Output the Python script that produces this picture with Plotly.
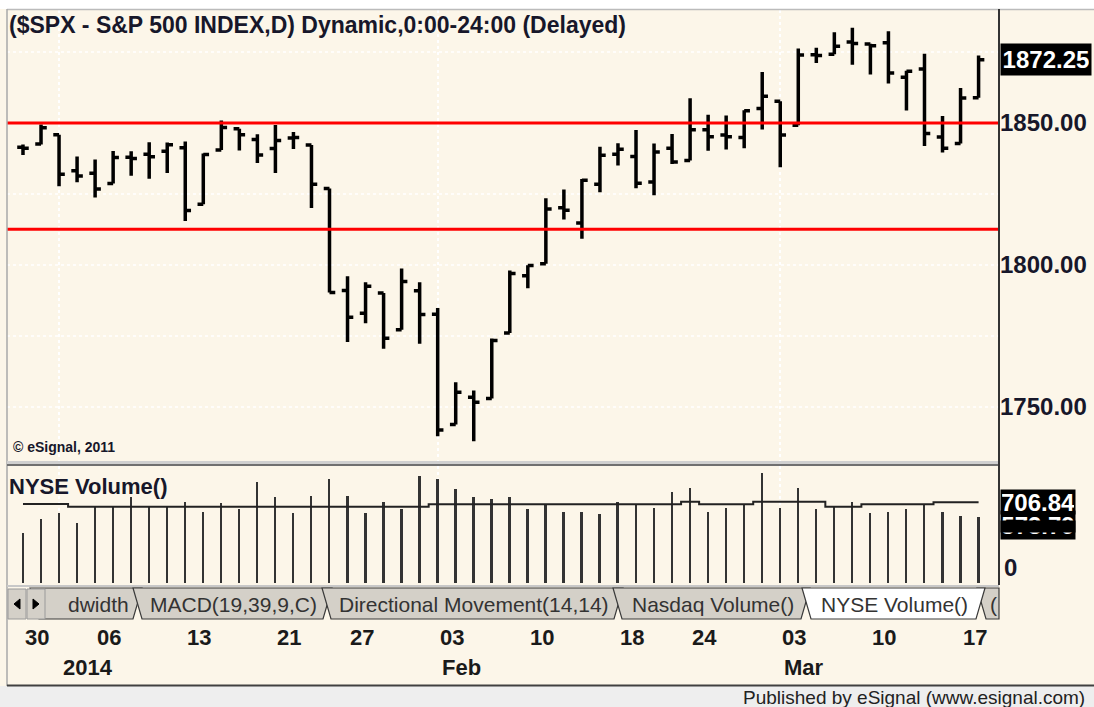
import plotly.graph_objects as go
import pandas as pd

# ---------------- data ----------------
dates = ["2013-12-30", "2013-12-31", "2014-01-02", "2014-01-03", "2014-01-06", "2014-01-07",
         "2014-01-08", "2014-01-09", "2014-01-10", "2014-01-13", "2014-01-14", "2014-01-15",
         "2014-01-16", "2014-01-17", "2014-01-21", "2014-01-22", "2014-01-23", "2014-01-24",
         "2014-01-27", "2014-01-28", "2014-01-29", "2014-01-30", "2014-01-31", "2014-02-03",
         "2014-02-04", "2014-02-05", "2014-02-06", "2014-02-07", "2014-02-10", "2014-02-11",
         "2014-02-12", "2014-02-13", "2014-02-14", "2014-02-18", "2014-02-19", "2014-02-20",
         "2014-02-21", "2014-02-24", "2014-02-25", "2014-02-26", "2014-02-27", "2014-02-28",
         "2014-03-03", "2014-03-04", "2014-03-05", "2014-03-06", "2014-03-07", "2014-03-10",
         "2014-03-11", "2014-03-12", "2014-03-13", "2014-03-14", "2014-03-17", "2014-03-18"]

opens = [1841.47, 1842.61, 1845.86, 1833.21, 1832.31, 1828.71, 1837.90, 1839.00, 1840.06,
         1841.26, 1821.36, 1840.52, 1847.99, 1844.23, 1841.05, 1844.71, 1842.29, 1826.96,
         1791.03, 1783.00, 1790.15, 1777.17, 1790.88, 1782.68, 1743.82, 1753.38, 1752.99,
         1776.01, 1796.20, 1800.45, 1820.12, 1814.82, 1828.46, 1839.03, 1838.22, 1829.24,
         1841.07, 1836.78, 1847.66, 1845.79, 1844.90, 1855.12, 1857.68, 1849.23, 1874.05,
         1874.18, 1878.52, 1877.86, 1878.26, 1866.15, 1869.06, 1845.07, 1842.81, 1858.92]
highs = [1842.47, 1849.44, 1845.86, 1838.24, 1837.16, 1840.10, 1840.02, 1843.23, 1843.15,
         1843.45, 1839.26, 1850.84, 1847.99, 1846.04, 1849.31, 1846.87, 1842.29, 1826.96,
         1795.98, 1793.87, 1790.15, 1798.77, 1793.88, 1784.83, 1758.73, 1755.79, 1774.06,
         1798.03, 1799.94, 1823.54, 1826.55, 1830.25, 1841.65, 1842.87, 1847.50, 1842.79,
         1846.13, 1858.71, 1852.91, 1852.65, 1854.53, 1867.92, 1857.68, 1876.23, 1876.53,
         1881.94, 1883.57, 1877.87, 1882.35, 1868.38, 1874.40, 1852.44, 1862.30, 1873.76]
lows = [1838.77, 1842.41, 1827.74, 1829.13, 1823.73, 1828.71, 1831.40, 1830.38, 1832.43,
        1815.52, 1821.36, 1840.52, 1840.30, 1835.87, 1832.38, 1840.88, 1820.06, 1790.29,
        1772.88, 1779.49, 1770.45, 1777.17, 1772.26, 1739.66, 1743.82, 1737.92, 1752.99,
        1776.01, 1791.83, 1800.41, 1815.97, 1809.22, 1825.59, 1835.01, 1826.99, 1824.58,
        1835.60, 1836.78, 1840.19, 1840.66, 1841.13, 1847.67, 1834.44, 1849.23, 1871.11,
        1874.18, 1870.56, 1867.04, 1863.88, 1854.38, 1841.86, 1839.57, 1842.81, 1858.92]
closes = [1841.07, 1848.36, 1831.98, 1831.37, 1826.77, 1837.88, 1837.49, 1838.13, 1842.37,
          1819.20, 1838.88, 1848.38, 1845.89, 1838.70, 1843.80, 1844.86, 1828.46, 1790.29,
          1781.56, 1792.50, 1774.20, 1794.19, 1782.59, 1741.89, 1755.20, 1751.64, 1773.43,
          1797.02, 1799.84, 1819.75, 1819.26, 1829.83, 1838.63, 1840.76, 1828.75, 1839.78,
          1836.25, 1847.61, 1845.12, 1845.16, 1854.29, 1859.45, 1845.73, 1873.91, 1873.81,
          1877.03, 1878.04, 1877.17, 1867.63, 1868.20, 1846.34, 1841.13, 1858.83, 1872.25]

volume = [433, 556, 609, 521, 667, 667, 750, 667, 667, 711, 623, 697, 644, 887, 750, 609,
          764, 908, 764, 609, 711, 644, 940, 908, 820, 750, 732, 750, 644, 688, 623, 623,
          605, 711, 688, 658, 799, 834, 623, 658, 688, 961, 658, 834, 644, 667, 711, 609,
          623, 644, 688, 623, 588, 573.79]
volume_avg = [691, 691, 691, 667, 667, 667, 667, 667, 667, 667, 667, 667, 667, 667, 667, 667,
              667, 667, 667, 667, 667, 667, 667, 688, 688, 688, 688, 688, 688, 688, 688, 688,
              688, 688, 688, 688, 688, 711, 688, 688, 688, 711, 711, 711, 711, 667, 667, 688,
              688, 688, 688, 706.84, 706.84, 706.84]

red_levels = [1850.0, 1812.6]
price_ticks = [1750, 1800, 1850]
grid_levels = [1750, 1775, 1800, 1825, 1850, 1875]
price_range = [1730.6, 1889.8]
volume_range = [-4.4, 1025]

title_text = "($SPX - S&P 500 INDEX,D) Dynamic,0:00-24:00 (Delayed)"
tabs = [("dwidth", 30, 142, False), ("MACD(19,39,9,C)", 133, 332, False),
        ("Directional Movement(14,14)", 322, 623, False), ("Nasdaq Volume()", 613, 810, False),
        ("(", 977, 1012, False), ("NYSE Volume()", 802, 985, True)]

# ---------------- helpers ----------------
W, H = 1094, 707
def px(x):
    return x / W
def py(y):
    return 1 - y / H

BG = "#FCF6E9"
TXT = "#17172a"
FONT = "Liberation Sans"

idx = list(range(len(dates)))
d = pd.to_datetime(pd.Series(dates))

fig = go.Figure()
fig.add_trace(go.Ohlc(x=idx, open=opens, high=highs, low=lows, close=closes,
                      increasing_line_color="black", decreasing_line_color="black",
                      line_width=3.5, tickwidth=0.32, xaxis="x", yaxis="y",
                      hoverinfo="skip", showlegend=False))
fig.add_trace(go.Bar(x=idx, y=volume, width=0.11, marker_color="#333333",
                     marker_line_width=0, xaxis="x", yaxis="y2", showlegend=False))
fig.add_trace(go.Scatter(x=idx, y=volume_avg, mode="lines",
                         line=dict(color="#222222", width=2, shape="hvh"),
                         xaxis="x", yaxis="y2", showlegend=False))

month_starts = [i for i in idx if i > 0 and d[i].month != d[i - 1].month]
week_starts = [i for i in idx if i == 0 or d[i].weekday() < d[i - 1].weekday()]

shapes = []
# dotted price grid
for g in grid_levels:
    shapes.append(dict(type="line", xref="x domain", x0=0, x1=1, yref="y", y0=g, y1=g,
                       line=dict(color="white", width=1.5, dash="dot"), layer="below"))
# red horizontal levels
for lv in red_levels:
    shapes.append(dict(type="line", xref="x domain", x0=0, x1=1, yref="y", y0=lv, y1=lv,
                       line=dict(color="#FF0000", width=3), layer="above"))
# top band
shapes.append(dict(type="rect", xref="paper", yref="paper", x0=0, x1=1, y0=py(9), y1=1,
                   fillcolor="white", line_width=0))
shapes.append(dict(type="line", xref="paper", yref="paper", x0=px(7), x1=1, y0=py(9.5), y1=py(9.5),
                   line=dict(color="#BBBBBB", width=1.5)))
# left border
shapes.append(dict(type="line", xref="paper", yref="paper", x0=px(7), x1=px(7), y0=py(9), y1=py(686),
                   line=dict(color="#A8A8A8", width=1.5)))
# pane separator
shapes.append(dict(type="rect", xref="paper", yref="paper", x0=px(7), x1=px(999), y0=py(466), y1=py(461),
                   fillcolor="#D0D0D0", line_width=0))
shapes.append(dict(type="line", xref="paper", yref="paper", x0=px(7), x1=px(999), y0=py(465), y1=py(465),
                   line=dict(color="#505050", width=1.5)))
# right axis line
shapes.append(dict(type="line", xref="paper", yref="paper", x0=px(999), x1=px(999), y0=py(9), y1=py(585),
                   line=dict(color="#333333", width=2)))
# tab strip
shapes.append(dict(type="line", xref="paper", yref="paper", x0=px(7), x1=px(999), y0=py(586), y1=py(586),
                   line=dict(color="#C8C8C8", width=2)))
annotations = []
for label, x0, x1, active in tabs:
    top, bot, s = 588, 619, 9
    if x1 > 999:
        pts = [(x0, top), (x0 + s, bot), (999, bot), (999, top)]
    else:
        pts = [(x0, top), (x0 + s, bot), (x1 - s, bot), (x1, top)]
    path = "M " + " L ".join(f"{px(a):.5f},{py(b):.5f}" for a, b in pts) + " Z"
    shapes.append(dict(type="path", xref="paper", yref="paper", path=path,
                       fillcolor="white" if active else "#D4D0C8",
                       line=dict(color="#3A3A3A", width=1.2)))
    if label == "dwidth":
        ax, anc = 66, "left"
    elif label == "(":
        ax, anc = 988, "left"
    else:
        ax, anc = (x0 + x1) / 2 + 1, "center"
    annotations.append(dict(text=label, xref="paper", yref="paper", x=px(ax), y=py(604),
                            xanchor=anc, yanchor="middle", showarrow=False,
                            font=dict(family=FONT, size=21, color="#333333")))
# scroll buttons
for bx0, bx1 in [(8, 26), (27, 45)]:
    shapes.append(dict(type="rect", xref="paper", yref="paper", x0=px(bx0), x1=px(bx1), y0=py(619), y1=py(589),
                       fillcolor="#D4D0C8", line=dict(color="#9A9A9A", width=1)))
tri_l = [(14, 604), (20, 599), (20, 609)]
tri_r = [(33, 599), (39, 604), (33, 609)]
for tri in (tri_l, tri_r):
    path = "M " + " L ".join(f"{px(a):.5f},{py(b):.5f}" for a, b in tri) + " Z"
    shapes.append(dict(type="path", xref="paper", yref="paper", path=path,
                       fillcolor="black", line=dict(color="black", width=1)))
# footer
shapes.append(dict(type="rect", xref="paper", yref="paper", x0=0, x1=1, y0=0, y1=py(686),
                   fillcolor="#EEEEEE", line_width=0))
shapes.append(dict(type="line", xref="paper", yref="paper", x0=px(7), x1=1, y0=py(685.5), y1=py(685.5),
                   line=dict(color="#404040", width=2)))

# texts
annotations.append(dict(text=title_text, xref="paper", yref="paper", x=px(7), y=py(25),
                        xanchor="left", yanchor="middle", showarrow=False,
                        font=dict(family=FONT, size=23, color=TXT, weight="bold")))
annotations.append(dict(text="NYSE Volume()", xref="paper", yref="paper", x=px(7), y=py(486),
                        xanchor="left", yanchor="middle", showarrow=False,
                        font=dict(family=FONT, size=22, color=TXT, weight="bold")))
annotations.append(dict(text="© eSignal, 2011", xref="paper", yref="paper", x=px(11), y=py(447),
                        xanchor="left", yanchor="middle", showarrow=False,
                        font=dict(family=FONT, size=14, color=TXT, weight="bold")))
annotations.append(dict(text="Published by eSignal (www.esignal.com)", xref="paper", yref="paper",
                        x=px(1087), y=py(697), xanchor="right", yanchor="middle", showarrow=False,
                        font=dict(family=FONT, size=19, color="#222222")))
# last price box
annotations.append(dict(text=f"{closes[-1]:.2f}", xref="paper", yref="y", x=px(1000), y=closes[-1],
                        xanchor="left", yanchor="middle", showarrow=False, bgcolor="black",
                        width=86, height=27, borderpad=2,
                        font=dict(family=FONT, size=24, color="white", weight="bold")))
# volume last value boxes
annotations.append(dict(text=f"{volume[-1]:.2f}", xref="paper", yref="y2", x=px(1000), y=volume[-1],
                        xanchor="left", yanchor="middle", yshift=-8, showarrow=False, bgcolor="black",
                        width=72, height=26, borderpad=1,
                        font=dict(family=FONT, size=24, color="white", weight="bold")))
annotations.append(dict(text=" ", xref="paper", yref="paper", x=px(1000), y=py(533),
                        xanchor="left", yanchor="bottom", showarrow=False, bgcolor="black",
                        width=72, height=9, borderpad=1))
annotations.append(dict(text=f"{volume_avg[-1]:.2f}", xref="paper", yref="y2", x=px(1000), y=volume_avg[-1],
                        xanchor="left", yanchor="middle", showarrow=False, bgcolor="black",
                        width=72, height=22, borderpad=1,
                        font=dict(family=FONT, size=24, color="white", weight="bold")))
annotations.append(dict(text="0", xref="paper", yref="y2", x=px(1002), y=0,
                        xanchor="left", yanchor="bottom", showarrow=False,
                        font=dict(family=FONT, size=24, color=TXT, weight="bold")))
# date labels
for i in week_starts:
    annotations.append(dict(text=d[i].strftime("%d"), xref="x", yref="paper", x=i, y=py(637),
                            xanchor="left", yanchor="middle", showarrow=False,
                            font=dict(family=FONT, size=22, color="#1a1a1a", weight="bold")))
for i in month_starts:
    lab = str(d[i].year) if d[i].month == 1 else d[i].strftime("%b")
    annotations.append(dict(text=lab, xref="x", yref="paper", x=i, y=py(667),
                            xanchor="left", yanchor="middle", xshift=2, showarrow=False,
                            font=dict(family=FONT, size=22, color="#1a1a1a", weight="bold")))

x0v = -0.887
fig.update_layout(
    width=W, height=H, margin=dict(l=0, r=0, t=0, b=0),
    paper_bgcolor=BG, plot_bgcolor=BG, showlegend=False, bargap=0,
    xaxis=dict(domain=[px(7), px(999)], range=[x0v, x0v + 992 / 18.03], anchor="y2",
               rangeslider=dict(visible=False), showticklabels=False, ticks="",
               tickmode="array", tickvals=month_starts, showgrid=True, gridcolor="white",
               griddash="dot", gridwidth=1.5, zeroline=False, showline=False),
    yaxis=dict(domain=[py(462), py(10)], range=price_range, anchor="x", side="right",
               tickmode="array", tickvals=price_ticks, tickformat=".2f", ticks="",
               tickfont=dict(family=FONT, size=24, color=TXT, weight="bold"),
               showgrid=False, zeroline=False, showline=False),
    yaxis2=dict(domain=[py(583), py(466)], range=volume_range, anchor="x", side="right",
                showticklabels=False, ticks="", showgrid=False, zeroline=False, showline=False),
    shapes=shapes, annotations=annotations,
)

fig.write_html("out.html", config={"displayModeBar": False},
               post_script="document.body.style.margin='0';document.body.style.padding='0';")
